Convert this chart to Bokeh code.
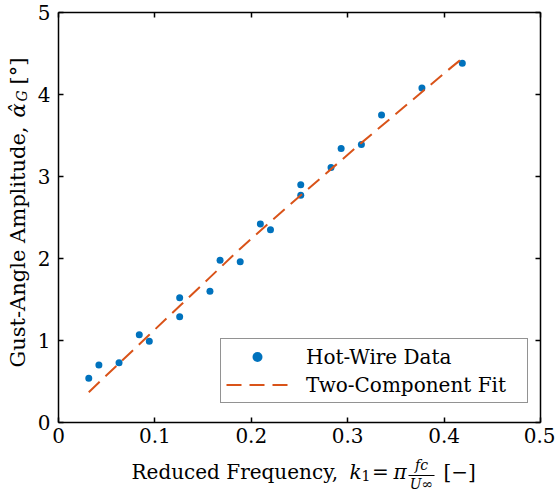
import math
from bokeh.plotting import figure
from bokeh.layouts import row, column
from bokeh.models import (LinearAxis, Label, Legend, LegendItem, Range1d,
                          FixedTicker, BoxAnnotation)
from bokeh.embed import file_html
from bokeh.resources import INLINE

# ---- data ----
k1_data = [0.0314, 0.0419, 0.0628, 0.0838, 0.0942, 0.1257, 0.1257, 0.1571,
           0.1676, 0.1885, 0.2094, 0.2199, 0.2513, 0.2513, 0.2827, 0.2932,
           0.3142, 0.3351, 0.3770, 0.4189]
alpha_data = [0.54, 0.70, 0.73, 1.07, 0.99, 1.52, 1.29, 1.60,
              1.98, 1.96, 2.42, 2.35, 2.90, 2.77, 3.11, 3.34,
              3.39, 3.75, 4.08, 4.38]

fit_k1 = [0.0314, 0.0628, 0.0942, 0.1257, 0.1571, 0.1885, 0.2199,
          0.2513, 0.2827, 0.3142, 0.3456, 0.3770, 0.4084, 0.4189]
fit_alpha = [0.37, 0.72, 1.07, 1.42, 1.77, 2.12, 2.45,
             2.77, 3.09, 3.41, 3.72, 4.03, 4.34, 4.44]

x_ticks = [0, 0.1, 0.2, 0.3, 0.4, 0.5]
x_tick_labels = ["0", "0.1", "0.2", "0.3", "0.4", "0.5"]
y_ticks = [0, 1, 2, 3, 4, 5]
y_tick_labels = ["0", "1", "2", "3", "4", "5"]

series_names = ["Hot-Wire Data", "Two-Component Fit"]

BLUE = "#0072BD"
ORANGE = "#D95319"
FONT = "DejaVu Serif"

W, H = 555, 495
YLAB_W = 34          # strip holding the y-axis title
XLAB_H = 40          # strip holding the x-axis title
FL, FB = 58, 422     # frame left / bottom in page pixels
FR = 15              # right border
BASE_SHIFT = 6       # renderer puts the alphabetic baseline ~6px further out


def blank_fig(w, h, **kw):
    f = figure(width=w, height=h, output_backend="svg", toolbar_location=None,
               x_range=Range1d(0, 1), y_range=Range1d(0, 1),
               x_axis_location=None, y_axis_location=None, min_border=0, **kw)
    f.outline_line_color = None
    f.grid.visible = False
    return f


# ---- main plot ----
p = figure(width=W - YLAB_W, height=H - XLAB_H, output_backend="svg",
           toolbar_location=None,
           x_range=Range1d(0, 0.5), y_range=Range1d(0, 5),
           x_axis_location=None, y_axis_location=None,
           min_border_left=FL - YLAB_W, min_border_right=FR, min_border_top=12,
           min_border_bottom=H - XLAB_H - FB)
p.outline_line_color = None
p.grid.visible = False
p.background_fill_color = "white"
p.border_fill_color = "white"


def make_axis(ticks, labels, show_labels):
    ax = LinearAxis(ticker=FixedTicker(ticks=ticks),
                    major_label_overrides={t: l for t, l in zip(ticks, labels)})
    ax.axis_line_color = "black"
    ax.axis_line_width = 1.5
    ax.major_tick_line_color = "black"
    ax.major_tick_line_width = 1.5
    ax.major_tick_in = 5
    ax.major_tick_out = 0
    ax.minor_tick_line_color = None
    if show_labels:
        ax.major_label_text_font = FONT
        ax.major_label_text_font_size = "20px"
        ax.major_label_text_color = "black"
    else:
        ax.major_label_text_font_size = "1px"
        ax.major_label_text_color = None
        ax.major_label_standoff = 0
    return ax


bx = make_axis(x_ticks, x_tick_labels, True)
bx.major_label_standoff = 5
p.add_layout(bx, "below")
ly = make_axis(y_ticks, y_tick_labels, True)
ly.major_label_standoff = 8
p.add_layout(ly, "left")
p.add_layout(make_axis(x_ticks, x_tick_labels, False), "above")
p.add_layout(make_axis(y_ticks, y_tick_labels, False), "right")

r_pts = p.scatter(k1_data, alpha_data, size=7, marker="circle",
                  fill_color=BLUE, line_color=None)
r_fit = p.line(fit_k1, fit_alpha, line_color=ORANGE, line_width=2,
               line_dash="15 8")

legend = Legend(items=[LegendItem(label=series_names[0], renderers=[r_pts]),
                       LegendItem(label=series_names[1], renderers=[r_fit])],
                location=(220 - FL, FB - 403), margin=0,
                label_text_font=FONT, label_text_font_size="20px",
                label_text_color="black",
                glyph_width=62, glyph_height=25, label_standoff=18,
                label_width=216, padding=5, spacing=3,
                border_line_color="#262626", border_line_width=1.5,
                background_fill_color="white", background_fill_alpha=1.0)
p.add_layout(legend, "center")


# ---- x-axis title strip (frame aligned with the main frame) ----
xf = blank_fig(W - YLAB_W, XLAB_H, min_border_left=FL - YLAB_W,
               min_border_right=FR)
XTOP = H - XLAB_H


def xlab(text, cx, cy, size="20px", style="normal", align="left"):
    xf.add_layout(Label(x=cx - FL, y=XLAB_H - (cy - BASE_SHIFT - XTOP),
                        x_units="screen", y_units="screen",
                        text=text, text_font=FONT, text_font_size=size,
                        text_font_style=style, text_align=align,
                        text_baseline="alphabetic", text_color="black"))


xlab("Reduced Frequency,", 131, 477)
xlab("k", 349, 477, style="italic")
xlab("1", 361, 481, size="14px")
xlab("=", 380, 477, align="center")
xlab("π", 393, 477, style="italic")
xlab("fc", 421, 470, size="14px", style="italic", align="center")
xlab("U∞", 421, 489, size="14px", style="italic", align="center")
xf.add_layout(BoxAnnotation(left=408 - FL, right=434 - FL,
                            top=XLAB_H - (474.5 - XTOP),
                            bottom=XLAB_H - (475.5 - XTOP),
                            left_units="screen", right_units="screen",
                            top_units="screen", bottom_units="screen",
                            fill_color="black", fill_alpha=1.0,
                            line_color=None))
xlab("[−]", 443, 477)

# ---- y-axis title strip ----
yf = blank_fig(YLAB_W, H)
A = math.pi / 2


def ylab(text, cx, cy, size="21px", style="normal"):
    yf.add_layout(Label(x=cx - BASE_SHIFT, y=H - cy,
                        x_units="screen", y_units="screen",
                        text=text, text_font=FONT, text_font_size=size,
                        text_font_style=style, text_align="left",
                        text_baseline="alphabetic", text_color="black",
                        angle=A))


ylab("Gust-Angle Amplitude,", 23, 367)
ylab("α̂", 23, 117, style="italic")
ylab("G", 27, 101, size="14px", style="italic")
ylab("[°]", 23, 84)

layout = row(yf, column(p, xf, spacing=0), spacing=0)

open("out.html", "w").write(file_html(layout, INLINE))
